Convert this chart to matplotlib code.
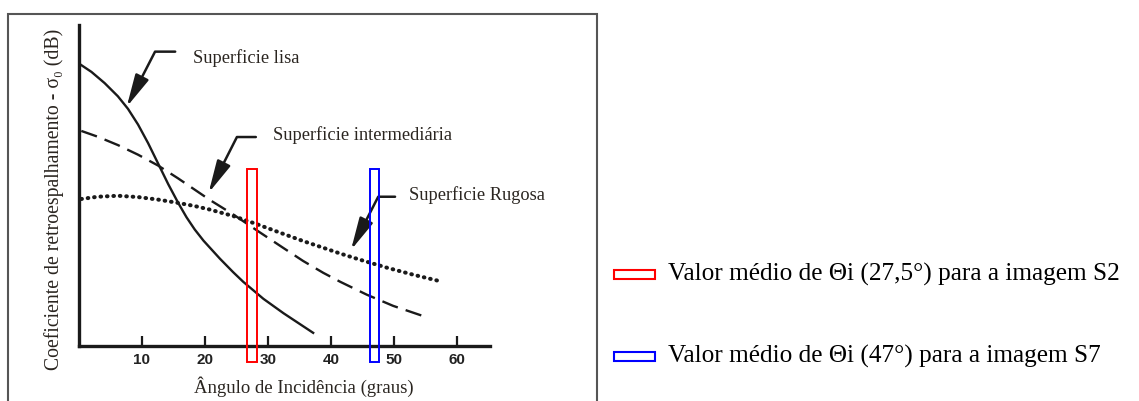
import matplotlib
matplotlib.use("Agg")
import matplotlib.pyplot as plt
from matplotlib.patches import Rectangle

# backscatter curves (angle in degrees, relative sigma0 level)
lisa_x = [0.4, 2.0, 4.1, 6.2, 7.8, 9.4, 11.0, 12.6, 14.2, 15.8, 17.1,
          18.4, 19.8, 22.4, 24.5, 26.1, 29.3, 32.5, 37.2]
lisa_y = [87.5, 85.4, 81.9, 77.8, 73.9, 69.0, 63.2, 56.8, 50.4, 44.5, 40.1,
          36.3, 32.8, 27.2, 23.0, 20.0, 14.7, 10.2, 4.1]

inter_x = [0.4, 3.0, 6.2, 9.4, 12.6, 15.7, 18.4, 20.8, 24.5, 28.2, 32.5,
           35.6, 38.8, 41.5, 45.7, 49.9, 54.7]
inter_y = [67.0, 65.2, 62.6, 59.6, 56.2, 52.3, 48.7, 45.5, 41.0, 36.1, 30.5,
           26.5, 22.8, 20.0, 16.0, 12.5, 9.3]

rug_x = [0.4, 3.0, 6.2, 9.4, 12.6, 15.7, 18.4, 20.8, 24.5, 28.2, 32.5,
         35.6, 38.8, 41.5, 44.6, 48.9, 53.1, 57.1]
rug_y = [45.8, 46.5, 46.8, 46.4, 45.6, 44.6, 43.6, 42.5, 40.5, 38.0, 34.9,
         32.7, 30.6, 28.8, 26.9, 24.4, 22.2, 20.3]

# mean incidence angles of the two images
mean_angles = [27.5, 47]
mean_colors = ["red", "blue"]
mean_labels = ["Valor médio de Θi (27,5°) para a imagem S2",
               "Valor médio de Θi (47°) para a imagem S7"]

xticks = [10, 20, 30, 40, 50, 60]

W, H = 1139, 401
fig = plt.figure(figsize=(W / 100, H / 100), dpi=100)
fig.patch.set_facecolor("white")

# grey frame around the plot
fig.add_artist(Rectangle((8 / W, -0.05), 589 / W, (401 - 14) / H + 0.05,
                         transform=fig.transFigure, fill=False,
                         edgecolor="#555555", linewidth=1.5))

ax = fig.add_axes([78.8 / W, (H - 346) / H, (490 - 78.8) / W, (346 - 25) / H])
ax.set_xlim(0, (490 - 78.8) / 6.3)
ax.set_ylim(0, 100)

ink = "#1a1a1a"
ax.plot(lisa_x, lisa_y, color=ink, lw=1.7, solid_joinstyle="round")
ax.plot(inter_x, inter_y, color=ink, lw=1.7, dashes=(7, 3.5))
ax.plot(rug_x, rug_y, color=ink, lw=2.9, linestyle=(0, (0.15, 1.45)),
        dash_capstyle="round")

# boxes marking the mean angles
box_w = 1.45
for ang, col in zip(mean_angles, mean_colors):
    ax.add_patch(Rectangle((ang - box_w / 2, -5), box_w, 60, fill=False,
                           edgecolor=col, lw=1.4, clip_on=False, zorder=5))

for s in ["top", "right"]:
    ax.spines[s].set_visible(False)
for s in ["left", "bottom"]:
    ax.spines[s].set_linewidth(2.4)
    ax.spines[s].set_color(ink)

ax.set_xticks(xticks)
ax.set_xticklabels([str(t) for t in xticks], fontfamily="Liberation Sans",
                   fontweight="bold", fontsize=11, color="#222222")
ax.tick_params(axis="x", direction="in", length=7, width=1.6, pad=5,
               color=ink)
ax.set_yticks([])

serif = ["Liberation Serif", "DejaVu Serif"]
ax.set_xlabel("Ângulo de Incidência (graus)", fontfamily=serif, fontsize=13.5,
              color="#2a2520")
ax.xaxis.set_label_coords(0.548, -0.095)
ax.set_ylabel("Coeficiente de retroespalhamento - σ\u2080 (dB)",
              fontfamily=serif, fontsize=14.2, color="#2a2520")
ax.yaxis.set_label_coords(-0.036, 0.458)

# curve labels with bent arrows
notes = [
    ("Superficie lisa", (18.2, 89.7), (15.3, 91.7), (7.6, 74.5), 62.8),
    ("Superficie intermediária", (30.8, 65.7), (28.1, 65.1), (20.6, 47.7), 63.1),
    ("Superficie Rugosa", (52.4, 47.0), (50.2, 46.5), (43.2, 29.9), 62.9),
]
for txt, tpos, start, tip, ang in notes:
    ax.text(tpos[0], tpos[1], txt, fontfamily=serif, fontsize=13.2,
            color="#2a2520", va="center", ha="left")
    ax.annotate("", xy=tip, xytext=start,
                arrowprops=dict(arrowstyle="-|>,head_length=1.8,head_width=0.4",
                                connectionstyle=f"angle,angleA=0,angleB={ang},rad=0",
                                color=ink, lw=1.8, shrinkA=0, shrinkB=0,
                                mutation_scale=11))

# legend for the boxes
for i, (col, lab) in enumerate(zip(mean_colors, mean_labels)):
    yc = (H - 274 - i * 82) / H
    fig.add_artist(Rectangle((613.5 / W, yc - 4.5 / H), 41.5 / W, 9 / H,
                             transform=fig.transFigure, fill=False,
                             edgecolor=col, lw=1.5))
    fig.text(668 / W, yc, lab, fontfamily=serif, fontsize=18.2,
             color="black", va="center", ha="left")

fig.savefig("out.png", dpi=100, facecolor="white")
